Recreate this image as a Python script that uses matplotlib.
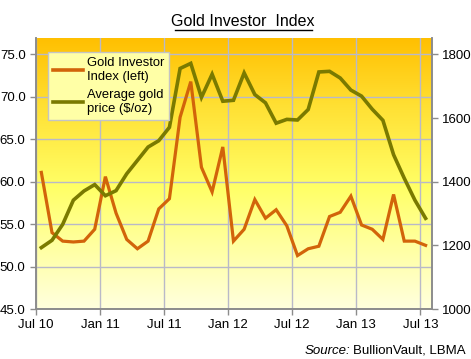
import matplotlib
matplotlib.use("Agg")
import matplotlib.pyplot as plt
import numpy as np
from matplotlib.colors import LinearSegmentedColormap
from matplotlib.lines import Line2D

plt.rcParams['font.family'] = ['Liberation Sans', 'DejaVu Sans']

# Monthly data, Jul 2010 .. Jul 2013 (plotted mid-month; x = months since Jul 2010)
months = np.arange(37) + 0.5
gii = [61.1, 54.0, 53.0, 52.9, 53.0, 54.4, 60.6, 56.3, 53.2, 52.1,
       53.0, 56.8, 58.0, 67.6, 71.8, 61.7, 58.8, 64.1, 53.0, 54.4,
       57.9, 55.7, 56.7, 54.8, 51.3, 52.1, 52.4, 55.9, 56.4, 58.3,
       54.9, 54.4, 53.2, 58.5, 53.0, 53.0, 52.5]
gold = [1193, 1216, 1266, 1342, 1371, 1391, 1356, 1372, 1425, 1467,
        1509, 1529, 1571, 1756, 1772, 1665, 1738, 1653, 1656, 1742,
        1674, 1648, 1584, 1596, 1594, 1627, 1745, 1747, 1726, 1688,
        1669, 1628, 1593, 1485, 1411, 1342, 1285]
xtick_pos = [0, 6, 12, 18, 24, 30, 36]
xtick_labels = ["Jul 10", "Jan 11", "Jul 11", "Jan 12", "Jul 12", "Jan 13", "Jul 13"]
left_ticks = [45, 50, 55, 60, 65, 70, 75]
right_ticks = [1000, 1200, 1400, 1600, 1800]

W, H = 471, 359
fig = plt.figure(figsize=(W / 100, H / 100), dpi=100)
ax = fig.add_axes([36 / W, (H - 309) / H, (432 - 36) / W, (309 - 37.5) / H])

# gradient background
cmap = LinearSegmentedColormap.from_list(
    "bg", [(0.0, "#FFFFDE"), (0.45, "#FFFF66"), (0.75, "#FFE033"), (1.0, "#FFBF00")])
grad = np.linspace(0, 1, 256).reshape(-1, 1)
ax.imshow(grad, aspect='auto', cmap=cmap, origin='lower', extent=[0, 1, 0, 1],
          transform=ax.transAxes, zorder=0)

ax.set_xlim(0, 37.1)
ax.set_ylim(45, 77)
ax.plot(months, gii, color="#D2640A", lw=2.3, solid_joinstyle='miter', zorder=3)

ax.set_xticks(xtick_pos)
ax.set_xticklabels(xtick_labels)
ax.set_yticks(left_ticks)
ax.set_yticklabels([f"{v:.1f}" for v in left_ticks])
ax.grid(True, color="#B9B9C8", lw=1.0, zorder=1)
ax.set_axisbelow(True)

ax2 = ax.twinx()
ax2.set_ylim(1000, 1000 + 32 * 800 / 30)
ax2.plot(months, gold, color="#7A7A00", lw=2.6, solid_joinstyle='miter', zorder=3)
ax2.set_yticks(right_ticks)

for a in (ax, ax2):
    for s in a.spines.values():
        s.set_color("#8C8C8C")
        s.set_linewidth(1.2)
    a.spines['top'].set_visible(False)
    a.tick_params(colors="#8C8C8C", labelcolor="black", labelsize=9.5, length=4, width=1)
ax.tick_params(axis='x', pad=3)

handles = [Line2D([], [], color="#D2640A", lw=2.6), Line2D([], [], color="#7A7A00", lw=2.6)]
leg = ax2.legend(handles, ["Gold Investor\nIndex (left)", "Average gold\nprice (\\$/oz)"],
                 loc='upper left', bbox_to_anchor=(48 / W, (H - 51.5) / H),
                 bbox_transform=fig.transFigure, fancybox=False, framealpha=1,
                 facecolor="#FFFFA6", edgecolor="#C4C4C4", fontsize=9.4,
                 handlelength=2.3, handletextpad=0.25, borderpad=0.4,
                 labelspacing=0.5, borderaxespad=0)
leg.get_frame().set_linewidth(1.0)

# title with underline
fig.text(243 / W, 1 - 21 / H, "Gold Investor  Index", ha='center', va='center', fontsize=11.5)
fig.add_artist(Line2D([175 / W, 311.5 / W], [1 - 29.5 / H, 1 - 29.5 / H],
                      color='black', lw=1.0, transform=fig.transFigure))

# source
fig.text(466 / W, 1 - 350.5 / H, "BullionVault, LBMA", ha='right', va='center', fontsize=9.5)
fig.text(305 / W, 1 - 350.5 / H, "Source:", ha='left', va='center', fontsize=9.5, style='italic')

fig.savefig("out.png", dpi=100)
